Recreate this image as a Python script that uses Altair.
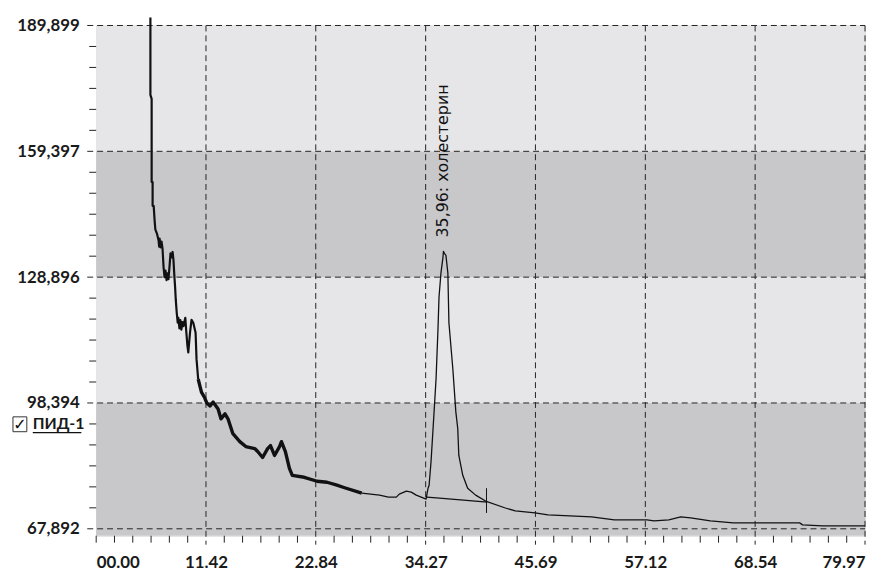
import altair as alt
import pandas as pd

# ---- axis values ----
x_major = [0, 11.42, 22.84, 34.27, 45.69, 57.12, 68.54, 79.97]
y_major = [67892, 98394, 128896, 159397, 189899]
x_domain = [0, 79.97]
y_domain = [66211, 189899]

# background bands
band_lo = [66211, 98394, 128896, 159397]
band_hi = [98394, 128896, 159397, 189899]
band_kind = ["dark", "light", "dark", "light"]

# ---- ПИД-1 trace (time, signal) in three stroke segments ----
time_a = [5.64, 5.64, 5.77, 5.77, 5.87, 5.87, 5.98, 6.08, 6.15, 6.32, 6.49, 6.55, 6.60, 6.70,
          6.80, 6.90, 7.01, 7.11, 7.21, 7.32, 7.42, 7.52, 7.63, 7.73, 7.86, 7.95, 8.04, 8.14,
          8.21, 8.28, 8.38, 8.48, 8.55, 8.66, 8.76, 8.86, 8.97, 9.07, 9.27, 9.38, 9.48, 9.58,
          9.76, 9.92, 10.10, 10.34, 10.44, 10.61]
signal_a = [191820, 173087, 172126, 151952, 151952, 146188, 146188, 142586, 140500, 139463,
            137782, 136300, 138262, 136101, 137500, 135861, 131298, 128896, 130500, 128176,
            129800, 128400, 131500, 134660, 133699, 135000, 133000, 128896, 126494, 123372,
            120250, 117848, 119049, 116500, 118500, 116167, 118000, 117000, 119049, 115446,
            112500, 110643, 115446, 118569, 117848, 115446, 108962, 104158]

time_b = [10.61, 10.95, 11.30, 11.50, 11.85, 12.16, 12.68, 12.98, 13.40, 13.71, 14.22, 14.94,
          15.56, 16.49, 16.80, 17.31, 17.83, 18.13, 18.55, 19.07, 19.27, 19.68, 20.10, 20.40,
          21.64, 22.98, 24.01, 25.04, 25.76, 27.62]
signal_b = [104158, 101036, 99595, 98394, 97673, 98634, 96953, 94551, 95752, 94551, 90948,
            89027, 87827, 87346, 86626, 85185, 87346, 88067, 85665, 87827, 89027, 86626,
            82543, 80862, 80382, 79421, 79180, 78460, 77900, 76538]

time_c = [27.62, 29.47, 30.40, 31.22, 31.53, 32.26, 32.77, 33.29, 34.32, 34.42, 34.52, 34.63,
          34.83, 35.04, 35.35, 35.55, 35.66, 35.86, 36.07, 36.12, 36.22, 36.38, 36.58, 36.69,
          37.10, 37.41, 37.61, 37.72, 38.13, 38.64, 39.47, 40.50, 42.56, 43.59, 45.65, 46.99,
          51.53, 53.90, 57.30, 58.02, 59.56, 60.80, 61.83, 63.89, 66.26, 73.17, 73.48, 75.54,
          79.97]
signal_c = [76538, 76058, 75577, 75577, 76298, 77019, 76778, 76058, 75097, 76500, 77739, 78460,
            84224, 92150, 104158, 116167, 124092, 129856, 133699, 135140, 134660, 134180,
            129856, 117848, 106560, 96232, 92150, 85665, 80862, 77739, 76058, 74616, 72935,
            72215, 71734, 71254, 70774, 70053, 70053, 69813, 70053, 70774, 70533, 69813,
            69333, 69333, 68852, 68612, 68612]

# integration baseline and marker
base_time = [34.39, 35.70, 38.20, 40.67]
base_signal = [75577, 75337, 74856, 74376]
marker_time = [40.60]
marker_lo = [71734]
marker_hi = [77739]

# peak annotation
ann_time = [36.07]
ann_signal = [138503]
ann_text = ["35,96: холестерин"]

W, H = 776, 515
INK = "#111111"
DASH = [6, 4]
LABEL_FONT = "Lato"

xs = alt.Scale(domain=x_domain, nice=False, zero=False)
ys = alt.Scale(domain=y_domain, nice=False, zero=False)

XA = alt.Axis(values=x_major, format="05.2f", labelFlush=True, ticks=False, domain=False, grid=False,
              labelFont=LABEL_FONT, labelFontSize=17, labelFontWeight="bold", labelColor="#1a1a1a",
              labelPadding=19, title=None)
YA = alt.Axis(values=y_major, format=",d", ticks=False, domain=False, grid=False, labelFlush=False,
              labelFont=LABEL_FONT, labelFontSize=17, labelFontWeight="bold", labelColor="#1a1a1a",
              labelPadding=17, title=None)


def X(field):
    return alt.X(field, scale=xs, axis=XA, title=None)


def Y(field):
    return alt.Y(field, scale=ys, axis=YA, title=None)


# minor ticks derived from the majors (6 intervals between majors)
x_minor = [0] + [a + (b - a) * k / 6 for a, b in zip(x_major[:-1], x_major[1:]) for k in range(1, 6)]
y_minor = [a + (b - a) * k / 6 for a, b in zip(y_major[:-1], y_major[1:]) for k in range(1, 6)]

bands = alt.Chart(pd.DataFrame({"lo": band_lo, "hi": band_hi, "kind": band_kind})).mark_rect().encode(
    x=alt.value(0), x2=alt.value(W),
    y=Y("lo:Q"), y2="hi:Q",
    color=alt.Color("kind:N", scale=alt.Scale(domain=["light", "dark"], range=["#e6e6e8", "#c8c8ca"]), legend=None),
)

vgrid = alt.Chart(pd.DataFrame({"t": x_major[1:]})).mark_rule(color="#222222", strokeDash=DASH, strokeWidth=1).encode(
    x=X("t:Q"), y=alt.value(0), y2=alt.value(H + 9)
)
hgrid = alt.Chart(pd.DataFrame({"v": y_major})).mark_rule(color="#222222", strokeDash=DASH, strokeWidth=1).encode(
    y=Y("v:Q"), x=alt.value(-9), x2=alt.value(W)
)
xticks = alt.Chart(pd.DataFrame({"t": x_minor})).mark_rule(color="#222222", strokeWidth=1).encode(
    x=X("t:Q"), y=alt.value(H), y2=alt.value(H + 7)
)
yticks = alt.Chart(pd.DataFrame({"v": y_minor})).mark_rule(color="#222222", strokeWidth=1).encode(
    y=Y("v:Q"), x=alt.value(-7), x2=alt.value(0)
)


def seg(times, sigs, width):
    df = pd.DataFrame({"t": times, "s": sigs, "i": range(len(times))})
    return alt.Chart(df).mark_line(color=INK, strokeWidth=width, strokeJoin="round").encode(
        x=X("t:Q"), y=Y("s:Q"), order="i:Q",
    )


line_a = seg(time_a, signal_a, 2.2)
line_b = seg(time_b, signal_b, 3.4)
line_c = seg(time_c, signal_c, 1.3)
baseline = seg(base_time, base_signal, 1.2)

marker = alt.Chart(pd.DataFrame({"t": marker_time, "lo": marker_lo, "hi": marker_hi})).mark_rule(
    color=INK, strokeWidth=1).encode(x=X("t:Q"), y=Y("lo:Q"), y2="hi:Q")

ann = alt.Chart(pd.DataFrame({"t": ann_time, "s": ann_signal, "txt": ann_text})).mark_text(
    angle=270, align="left", baseline="middle", font="DejaVu Sans", fontSize=16, color=INK
).encode(x=X("t:Q"), y=Y("s:Q"), text="txt:N")

one = pd.DataFrame({"a": [0]})
box = alt.Chart(one).mark_rect(fill="white", stroke="#333333", strokeWidth=1).encode(
    x=alt.value(-84), x2=alt.value(-70), y=alt.value(395), y2=alt.value(410))
check = alt.Chart(one).mark_text(font="DejaVu Sans", fontSize=16, color=INK, align="center", baseline="middle").encode(
    x=alt.value(-77), y=alt.value(403), text=alt.value("✓"))
legend_txt = alt.Chart(one).mark_text(font=LABEL_FONT, fontSize=16, fontWeight="bold", color="#1a1a1a", align="left",
                                      baseline="alphabetic").encode(x=alt.value(-64), y=alt.value(407),
                                                                    text=alt.value("ПИД-1"))
underline = alt.Chart(one).mark_rule(color=INK, strokeWidth=1.2).encode(
    x=alt.value(-64), x2=alt.value(-15), y=alt.value(411))

chart = alt.layer(
    bands, vgrid, hgrid, xticks, yticks, line_a, line_b, line_c, baseline, marker, ann,
    box, check, legend_txt, underline
).properties(
    width=W, height=H,
    padding={"left": 89, "top": 15, "right": 2, "bottom": 40},
    autosize=alt.AutoSizeParams(type="none"),
).configure_view(stroke=None).configure(background="white")

chart.save("out.html", embed_options={"renderer": "svg", "actions": False})
